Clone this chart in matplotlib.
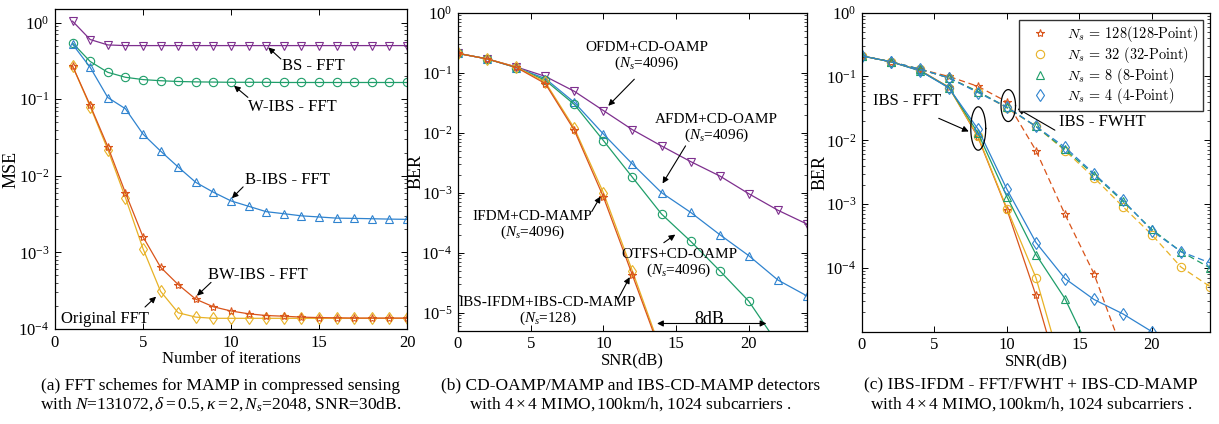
import numpy as np
import matplotlib
matplotlib.use('Agg')
import matplotlib.pyplot as plt
from matplotlib.lines import Line2D
from matplotlib.font_manager import FontProperties

plt.rcParams['font.family'] = ['Liberation Serif', 'DejaVu Serif']
plt.rcParams['mathtext.fontset'] = 'custom'
plt.rcParams['mathtext.rm'] = 'Liberation Serif'
plt.rcParams['mathtext.it'] = 'Liberation Serif:italic'
plt.rcParams['mathtext.bf'] = 'Liberation Serif:bold'
plt.rcParams['xtick.direction'] = 'in'
plt.rcParams['ytick.direction'] = 'in'
plt.rcParams['xtick.top'] = True
plt.rcParams['ytick.right'] = True
plt.rcParams['axes.linewidth'] = 0.9

BLUE = '#2f83cf'
ORANGE = '#d9541a'
YELLOW = '#e8b226'
PURPLE = '#7e2f8e'
GREEN = '#1f9e6a'

# ---------------- data (a) ----------------
iters = np.arange(1, 21)
mse_bs = [1.04, 0.6, 0.51, 0.5, 0.5, 0.5, 0.5, 0.5, 0.5, 0.5,
          0.5, 0.5, 0.5, 0.5, 0.5, 0.5, 0.5, 0.5, 0.5, 0.5]
mse_wibs = [0.54, 0.31, 0.224, 0.193, 0.18, 0.174, 0.17, 0.168, 0.167, 0.166,
            0.166, 0.166, 0.165, 0.165, 0.165, 0.165, 0.165, 0.165, 0.165, 0.165]
mse_bibs = [0.52, 0.26, 0.105, 0.075, 0.035, 0.021, 0.013, 0.0082, 0.0061, 0.0047,
            0.0040, 0.0034, 0.0032, 0.0030, 0.0029, 0.0028, 0.00278, 0.00275, 0.00272, 0.0027]
mse_bwibs = [0.27, 0.083, 0.024, 0.006, 0.0016, 0.00064, 0.00038, 0.000245, 0.000195, 0.000172,
             0.000158, 0.00015, 0.000147, 0.000143, 0.000141, 0.00014, 0.000139, 0.000139, 0.000139, 0.000139]
mse_orig = [0.27, 0.08, 0.022, 0.0052, 0.00112, 0.00031, 0.000163, 0.000143, 0.000138, 0.000138,
            0.000138, 0.000138, 0.000138, 0.000138, 0.000138, 0.000138, 0.000138, 0.000138, 0.000138, 0.000138]

# ---------------- data (b) ----------------
snr_b = np.arange(0, 26, 2)
ber_ofdm = [0.21, 0.17, 0.125, 0.087, 0.049, 0.0234, 0.0112, 0.006, 0.0033, 0.0019, 0.00096, 0.00051, 0.0003]
ber_afdm = [0.21, 0.17, 0.122, 0.08, 0.032, 0.0095, 0.003, 0.001, 0.00047, 0.0002, 8.9e-5, 3.5e-5, 1.9e-5]
ber_otfs = [0.21, 0.17, 0.122, 0.075, 0.0296, 0.0074, 0.0018, 0.00044, 0.000155, 5e-5, 1.55e-5, 3e-6]
ber_ifdm = [0.21, 0.17, 0.125, 0.07, 0.0119, 0.001, 4.9e-5, 2.2e-6]
ber_ibs = [0.21, 0.17, 0.123, 0.066, 0.011, 0.00085, 4.2e-5, 2e-6]

# ---------------- data (c) ----------------
snr_c = np.arange(0, 26, 2)
fft_128 = [0.21, 0.17, 0.125, 0.068, 0.0112, 0.00082, 3.7e-5, 1e-6]
fft_32 = [0.21, 0.17, 0.125, 0.067, 0.0115, 0.00085, 7e-5, 1.8e-6]
fft_8 = [0.21, 0.17, 0.123, 0.067, 0.013, 0.0013, 0.000162, 3.3e-5, 3.7e-6]
fft_4 = [0.21, 0.17, 0.123, 0.066, 0.015, 0.0017, 0.00025, 6.8e-5, 3.2e-5, 1.9e-5, 1.0e-5]
fwht_128 = [0.21, 0.17, 0.13, 0.1, 0.07, 0.04, 0.0069, 0.00069, 8.1e-5, 4.7e-6]
fwht_32 = [0.21, 0.17, 0.13, 0.095, 0.058, 0.032, 0.0165, 0.0069, 0.0026, 0.00091, 0.00033, 0.000103, 5.1e-5]
fwht_8 = [0.21, 0.17, 0.13, 0.095, 0.058, 0.033, 0.0165, 0.0072, 0.0029, 0.0011, 0.0004, 0.00018, 0.0001]
fwht_4 = [0.21, 0.17, 0.13, 0.095, 0.056, 0.033, 0.0165, 0.0078, 0.003, 0.00115, 0.00038, 0.00018, 0.00012]

legend_labels = [r'$N_s$ = 128(128-Point)', r'$N_s$ = 32 (32-Point)',
                 r'$N_s$ = 8 (8-Point)', r'$N_s$ = 4 (4-Point)']

fig = plt.figure(figsize=(12.19, 4.24), dpi=100)
axa = fig.add_axes([0.0451, 0.224, 0.2888, 0.7547])
axb = fig.add_axes([0.3757, 0.220, 0.2863, 0.750])
axc = fig.add_axes([0.7071, 0.2177, 0.2855, 0.7524])

lw = 0.9
ms = 6
mk = dict(markerfacecolor='none', markersize=ms, markeredgewidth=0.8)
ap = dict(arrowstyle='-|>', color='black', lw=0.8, mutation_scale=9)

# ---------- panel (a) ----------
axa.semilogy(iters, mse_bs, '-v', color=PURPLE, lw=lw, **mk)
axa.semilogy(iters, mse_wibs, '-o', color=GREEN, lw=lw, **mk)
axa.semilogy(iters, mse_bibs, '-^', color=BLUE, lw=lw, **mk)
axa.semilogy(iters, mse_orig, '-d', color=YELLOW, lw=lw, **mk)
axa.semilogy(iters, mse_bwibs, '-*', color=ORANGE, lw=lw, **mk)
axa.set_xlim(0, 20)
axa.set_ylim(1e-4, 1.5)
axa.set_xticks([0, 5, 10, 15, 20])
axa.set_ylabel('MSE', fontsize=13)
axa.yaxis.set_label_coords(-0.1, 0.5)
axa.set_xlabel('Number of iterations', fontsize=12, labelpad=0)

tfs = 12
axa.annotate('', xy=(12, 0.5), xytext=(12.95, 0.316), arrowprops=ap)
axa.text(14.66, 0.27, 'BS - FFT', fontsize=tfs, ha='center', va='center')
axa.annotate('', xy=(10.05, 0.158), xytext=(11.08, 0.1), arrowprops=ap)
axa.text(13.47, 0.0785, 'W-IBS - FFT', fontsize=tfs, ha='center', va='center')
axa.annotate('', xy=(9.94, 0.0048), xytext=(10.8, 0.0076), arrowprops=ap)
axa.text(13.2, 0.0089, 'B-IBS - FFT', fontsize=tfs, ha='center', va='center')
axa.annotate('', xy=(7.95, 0.000257), xytext=(8.98, 0.00043), arrowprops=ap)
axa.text(11.5, 0.00051, 'BW-IBS - FFT', fontsize=tfs, ha='center', va='center')
axa.annotate('', xy=(5.86, 0.00028), xytext=(5.0, 0.000183), arrowprops=ap)
axa.text(2.84, 0.000135, 'Original FFT', fontsize=tfs, ha='center', va='center')

# ---------- panel (b) ----------
axb.semilogy(snr_b, ber_ofdm, '-v', color=PURPLE, lw=lw, **mk)
axb.semilogy(snr_b, ber_afdm, '-^', color=BLUE, lw=lw, **mk)
axb.semilogy(snr_b[:len(ber_otfs)], ber_otfs, '-o', color=GREEN, lw=lw, **mk)
axb.semilogy(snr_b[:len(ber_ifdm)], ber_ifdm, '-d', color=YELLOW, lw=lw, **mk)
axb.semilogy(snr_b[:len(ber_ibs)], ber_ibs, '-*', color=ORANGE, lw=lw, **mk)
axb.set_xlim(0, 24)
axb.set_ylim(5e-6, 1)
axb.set_xticks([0, 5, 10, 15, 20])
axb.set_ylabel('BER', fontsize=13)
axb.yaxis.set_label_coords(-0.095, 0.5)
axb.set_xlabel('SNR(dB)', fontsize=12, labelpad=0)

bfs = 11
axb.text(13.0, 0.185, 'OFDM+CD-OAMP\n($N_s$=4096)', fontsize=bfs, ha='center', va='center', linespacing=1.05)
axb.annotate('', xy=(10.2, 0.026), xytext=(12.26, 0.084), arrowprops=ap)
axb.text(17.8, 0.0117, 'AFDM+CD-OAMP\n($N_s$=4096)', fontsize=bfs, ha='center', va='center', linespacing=1.05)
axb.annotate('', xy=(13.97, 0.0013), xytext=(15.75, 0.0066), arrowprops=ap)
axb.text(5.14, 0.00028, 'IFDM+CD-MAMP\n($N_s$=4096)', fontsize=bfs, ha='center', va='center', linespacing=1.05)
axb.annotate('', xy=(9.9, 0.00095), xytext=(9.1, 0.00044), arrowprops=ap)
axb.text(15.2, 6.6e-5, 'OTFS+CD-OAMP\n($N_s$=4096)', fontsize=bfs, ha='center', va='center', linespacing=1.05)
axb.annotate('', xy=(15.1, 0.000213), xytext=(14.0, 0.000138), arrowprops=ap)
axb.text(6.16, 1.05e-5, 'IBS-IFDM+IBS-CD-MAMP\n($N_s$=128)', fontsize=bfs, ha='center', va='center', linespacing=1.05)
axb.annotate('', xy=(11.9, 4.3e-5), xytext=(10.9, 1.5e-5), arrowprops=ap)
axb.annotate('', xy=(13.5, 6.6e-6), xytext=(21.4, 6.6e-6),
             arrowprops=dict(arrowstyle='<|-|>', color='black', lw=0.8, mutation_scale=9))
axb.text(17.3, 7.6e-6, '8dB', fontsize=13, ha='center', va='center')

# ---------- panel (c) ----------
cols = [ORANGE, YELLOW, GREEN, BLUE]
mks = ['*', 'o', '^', 'd']
for y, c, m in zip([fft_128, fft_32, fft_8, fft_4], cols, mks):
    axc.semilogy(snr_c[:len(y)], y, '-', marker=m, color=c, lw=lw, **mk)
for y, c, m in zip([fwht_128, fwht_32, fwht_8, fwht_4], cols, mks):
    axc.semilogy(snr_c[:len(y)], y, '--', marker=m, color=c, lw=lw, dashes=(5, 3), **mk)
axc.set_xlim(0, 24)
axc.set_ylim(1e-5, 1)
axc.set_yticks([1e-4, 1e-3, 1e-2, 1e-1, 1])
axc.set_xticks([0, 5, 10, 15, 20])
axc.set_ylabel('BER', fontsize=13)
axc.yaxis.set_label_coords(-0.095, 0.5)
axc.set_xlabel('SNR(dB)', fontsize=12, labelpad=0)

# ellipses drawn in log space
t = np.linspace(0, 2 * np.pi, 100)
for xc, yc, w, hdec in [(8.02, 0.0153, 1.03, 0.68), (10.09, 0.035, 1.0, 0.5)]:
    axc.plot(xc + w / 2 * np.cos(t), yc * 10 ** (hdec / 2 * np.sin(t)), color='black', lw=0.9)
axc.annotate('', xy=(7.54, 0.0132), xytext=(5.12, 0.023), arrowprops=ap)
axc.text(3.1, 0.042, 'IBS - FFT', fontsize=12, ha='center', va='center')
axc.annotate('', xy=(10.57, 0.033), xytext=(13.47, 0.0137), arrowprops=ap)
axc.text(16.6, 0.019, 'IBS - FWHT', fontsize=12, ha='center', va='center')

handles = [Line2D([], [], ls='none', marker=m, color=c, **mk) for c, m in zip(cols, mks)]
lp = FontProperties(family='cmr10', size=10.3, math_fontfamily='cm')
axc.legend(handles, legend_labels, loc='upper right', prop=lp, fancybox=False,
           edgecolor='#333333', framealpha=1, borderaxespad=0.5, handletextpad=0.7,
           handlelength=2.4, labelspacing=0.05, borderpad=0.3)

for ax in (axa, axb, axc):
    ax.tick_params(labelsize=12, length=4, width=0.7, pad=4)
    ax.tick_params(which='minor', length=2, width=0.5)

fig.text(0.181, 0.068, '(a) FFT schemes for MAMP in compressed sensing\n'
         r'with $N$=131072,$\,\delta=0.5,\kappa=2,N_s$=2048, SNR=30dB.',
         fontsize=12.5, ha='center', va='center', linespacing=1.1)
fig.text(0.517, 0.068, '(b) CD-OAMP/MAMP and IBS-CD-MAMP detectors\n'
         r'with $4\times4$ MIMO,$\,$100km/h, 1024 subcarriers .',
         fontsize=12.5, ha='center', va='center', linespacing=1.1)
fig.text(0.846, 0.068, '(c) IBS-IFDM - FFT/FWHT + IBS-CD-MAMP\n'
         r'with $4\times4$ MIMO,$\,$100km/h, 1024 subcarriers .',
         fontsize=12.5, ha='center', va='center', linespacing=1.1)

fig.savefig('out.png', dpi=100)
